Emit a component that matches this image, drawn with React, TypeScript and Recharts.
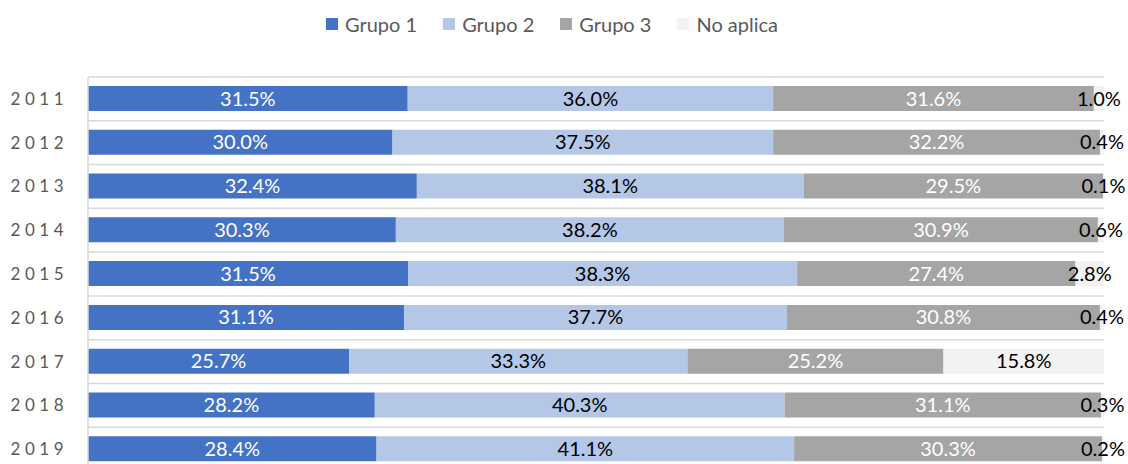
import { Bar, BarChart, CartesianGrid, LabelList, Legend, XAxis, YAxis } from "recharts";

const years = ["2011", "2012", "2013", "2014", "2015", "2016", "2017", "2018", "2019"];
const grupo1 = [31.5, 30.0, 32.4, 30.3, 31.5, 31.1, 25.7, 28.2, 28.4];
const grupo2 = [36.0, 37.5, 38.1, 38.2, 38.3, 37.7, 33.3, 40.3, 41.1];
const grupo3 = [31.6, 32.2, 29.5, 30.9, 27.4, 30.8, 25.2, 31.1, 30.3];
const noAplica = [1.0, 0.4, 0.1, 0.6, 2.8, 0.4, 15.8, 0.3, 0.2];

const data = years.map((year, i) => ({
  year,
  g1: grupo1[i],
  g2: grupo2[i],
  g3: grupo3[i],
  na: noAplica[i],
}));

const FONT = "Lato, 'Open Sans', sans-serif";
const GRID = "#D9D9D9";
const TEXT = "#595959";

const series = [
  { key: "g1", name: "Grupo 1", color: "#4472C4", label: "#FFFFFF" },
  { key: "g2", name: "Grupo 2", color: "#B4C7E7", label: "#000000" },
  { key: "g3", name: "Grupo 3", color: "#A5A5A5", label: "#FFFFFF" },
  { key: "na", name: "No aplica", color: "#F2F2F2", label: "#000000" },
];

const fmt = (v: unknown) => `${Number(v).toFixed(1)}%`;

// year ticks are letter-spaced like the source
function YearTick({ x, y, payload }: any) {
  return (
    <text x={x - 12} y={y} dy={6} textAnchor="end" fill={TEXT} fontSize={17} fontFamily={FONT} letterSpacing={4.5}>
      {payload.value}
    </text>
  );
}

function LegendContent({ payload }: any) {
  return (
    <div
      style={{
        height: 28,
        display: "flex",
        justifyContent: "center",
        alignItems: "center",
        gap: 26,
        fontFamily: FONT,
        fontSize: 20,
        color: TEXT,
      }}
    >
      {(payload ?? []).map((p: any) => (
        <span key={p.value} style={{ display: "flex", alignItems: "center", gap: 7 }}>
          <span style={{ width: 12, height: 12, background: p.color, display: "inline-block" }} />
          {p.value}
        </span>
      ))}
    </div>
  );
}

export default function App() {
  return (
    <div style={{ width: 1128, height: 464, overflow: "hidden", background: "#fff" }}>
      <style>{`body{margin:0}`}</style>
      <BarChart
        width={1128}
        height={480}
        data={data}
        layout="vertical"
        stackOffset="expand"
        barSize={25}
        margin={{ top: 49, right: 24, bottom: 9, left: 0 }}
      >
        <CartesianGrid
          vertical={false}
          stroke={GRID}
          strokeWidth={1.5}
          horizontalCoordinatesGenerator={({ offset }: any) => {
            const step = offset.height / years.length;
            return years.map((_, i) => offset.top + i * step).concat(offset.top + offset.height);
          }}
        />
        <XAxis type="number" domain={[0, 1]} hide />
        <YAxis
          type="category"
          dataKey="year"
          width={88}
          axisLine={{ stroke: GRID, strokeWidth: 1.5 }}
          tickLine={false}
          tick={<YearTick />}
        />
        <Legend verticalAlign="top" wrapperStyle={{ top: 10 }} content={<LegendContent />} />
        {series.map((s) => (
          <Bar key={s.key} dataKey={s.key} name={s.name} stackId="a" fill={s.color} isAnimationActive={false}>
            <LabelList
              dataKey={s.key}
              position="center"
              formatter={fmt}
              fill={s.label}
              fontSize={20}
              fontFamily={FONT}
            />
          </Bar>
        ))}
      </BarChart>
    </div>
  );
}
